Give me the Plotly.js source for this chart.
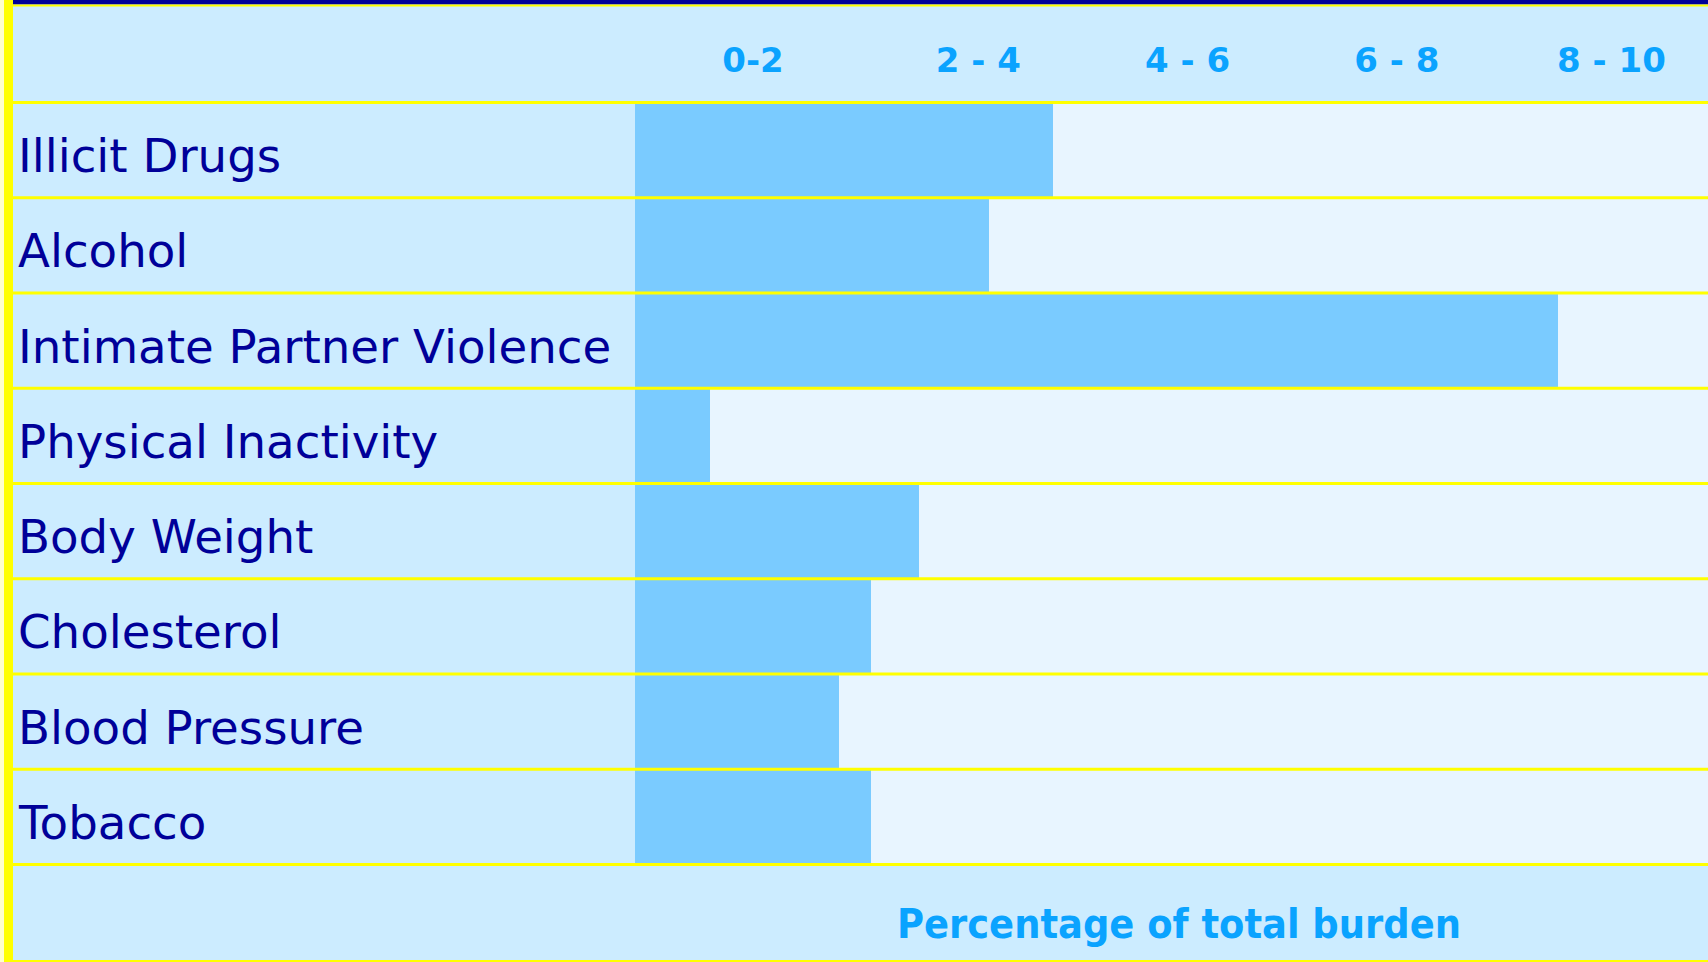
<!DOCTYPE html>
<html>
<head>
<meta charset="utf-8">
<script src="https://cdn.plot.ly/plotly-3.0.1.min.js"></script>
<style>
  html, body { margin: 0; padding: 0; background: #FFFFCC; }
  #chart { width: 1708px; height: 962px; }
</style>
</head>
<body>
<div id="chart"></div>
<script>
// ---- data ----
const categories = ['Illicit Drugs', 'Alcohol', 'Intimate Partner Violence', 'Physical Inactivity',
                    'Body Weight', 'Cholesterol', 'Blood Pressure', 'Tobacco'];
const values = [3.9, 3.3, 8.6, 0.7, 2.65, 2.2, 1.9, 2.2];
const tickLabels = ['0-2', '2 - 4', '4 - 6', '6 - 8', '8 - 10'];
const tickPositions = [1.1, 3.2, 5.15, 7.1, 9.1];
const axisTitle = 'Percentage of total burden';

// ---- geometry (pixels) ----
const W = 1708, H = 962;
const M = { l: 635, r: 0, t: 101, b: 96 };
const PW = W - M.l - M.r, PH = H - M.t - M.b;
const px = x => (x - M.l) / PW;          // pixel x -> paper x
const py = y => (H - M.b - y) / PH;      // pixel y -> paper y

const FONT = 'DejaVu Sans, sans-serif';
const FONT_C = 'DejaVu Sans Condensed, DejaVu Sans, sans-serif';
const YELLOW = '#FFFF00';

const shapes = [];
// pale page edge and yellow left border
shapes.push({ type: 'rect', xref: 'paper', yref: 'paper', x0: px(0), x1: px(4), y0: py(H), y1: py(0),
  fillcolor: '#FFFFCC', line: { width: 0 }, layer: 'above' });
shapes.push({ type: 'rect', xref: 'paper', yref: 'paper', x0: px(4), x1: px(13), y0: py(H), y1: py(0),
  fillcolor: YELLOW, line: { width: 0 }, layer: 'above' });
// top navy + yellow stripes
shapes.push({ type: 'rect', xref: 'paper', yref: 'paper', x0: px(13), x1: px(W), y0: py(4.5), y1: py(0),
  fillcolor: '#000099', line: { width: 0 }, layer: 'above' });
shapes.push({ type: 'rect', xref: 'paper', yref: 'paper', x0: px(13), x1: px(W), y0: py(6.5), y1: py(4.5),
  fillcolor: YELLOW, line: { width: 0 }, layer: 'above' });
// bottom yellow edge
shapes.push({ type: 'rect', xref: 'paper', yref: 'paper', x0: px(13), x1: px(W), y0: py(H), y1: py(H - 2),
  fillcolor: YELLOW, line: { width: 0 }, layer: 'above' });
// row separators (derived from categories)
for (let i = 0; i <= categories.length; i++) {
  shapes.push({ type: 'line', xref: 'paper', yref: 'y', x0: px(13), x1: px(W), y0: i - 0.5, y1: i - 0.5,
    line: { color: YELLOW, width: 3 }, layer: 'above' });
}

const annotations = categories.map(c => ({
  xref: 'paper', yref: 'y', x: px(16), y: c, xanchor: 'left', yanchor: 'middle', yshift: -6,
  text: c, showarrow: false, font: { family: FONT, size: 46.7, color: '#000099' }
}));
annotations.push({
  xref: 'paper', yref: 'paper', x: px(1179), y: py(924), xanchor: 'center', yanchor: 'middle',
  text: axisTitle, showarrow: false, font: { family: FONT_C, size: 41, color: '#0AA3FF', weight: 'bold' }
});

const trace = {
  type: 'bar', orientation: 'h', x: values, y: categories, width: 1,
  marker: { color: '#7ACBFF', line: { width: 0 } }, hoverinfo: 'none'
};

const layout = {
  width: W, height: H,
  margin: { l: M.l, r: M.r, t: M.t, b: M.b, pad: 0 },
  paper_bgcolor: '#CCECFF', plot_bgcolor: '#E8F5FF',
  showlegend: false, bargap: 0,
  xaxis: {
    range: [0, 10], side: 'top', tickmode: 'array', tickvals: tickPositions, ticktext: tickLabels,
    tickfont: { family: FONT, size: 34, color: '#0AA3FF', weight: 'bold' },
    ticks: 'outside', ticklen: 14, tickcolor: 'rgba(0,0,0,0)',
    showgrid: false, zeroline: false, showline: false, fixedrange: true
  },
  yaxis: {
    type: 'category', autorange: 'reversed', showticklabels: false,
    showgrid: false, zeroline: false, showline: false, ticks: '', fixedrange: true
  },
  shapes: shapes, annotations: annotations
};

Plotly.newPlot('chart', [trace], layout, { displayModeBar: false, staticPlot: true });
</script>
</body>
</html>
